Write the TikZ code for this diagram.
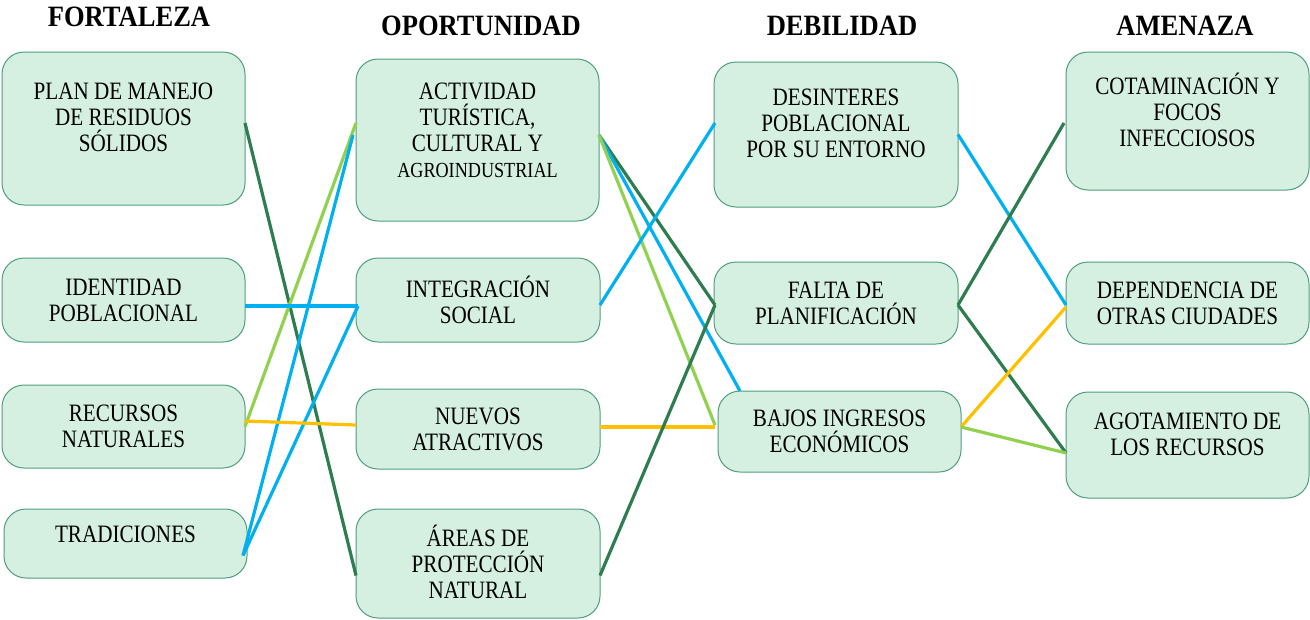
\documentclass[tikz,border=0pt]{standalone}
\usepackage{fontspec}
\setmainfont{Liberation Serif}
\newfontfamily\boxfont[FakeStretch=0.845]{Liberation Serif}
\newfontfamily\titlefont[FakeStretch=0.9]{Liberation Serif}
\definecolor{boxfill}{RGB}{213,240,224}
\definecolor{boxline}{RGB}{78,158,128}
\definecolor{dkgreen}{RGB}{46,125,78}
\definecolor{ltgreen}{RGB}{146,208,80}
\definecolor{skyblue}{RGB}{0,176,240}
\definecolor{gold}{RGB}{255,192,0}
\tikzset{
  box/.style={draw=boxline, fill=boxfill, line width=1pt, rounded corners=22pt,
    outer sep=0pt, inner sep=0pt, align=center,
    font=\boxfont\fontsize{25}{26}\selectfont},
  title/.style={font=\titlefont\bfseries\fontsize{29.5}{31}\selectfont, inner sep=0pt},
  link/.style={line width=3.2pt},
}
\begin{document}
\begin{tikzpicture}[x=1pt,y=-1pt]
\useasboundingbox (0,0) rectangle (1310,619);
% titles
\node[title] (tf) at (129,17) {FORTALEZA};
\node[title] (to) at (481,26) {OPORTUNIDAD};
\node[title] (td) at (842,26) {DEBILIDAD};
\node[title] (ta) at (1185,26) {AMENAZA};
% Fortaleza
\node[box, minimum width=243pt, minimum height=153pt] (F1) at (123.5,128.5)
  {PLAN DE MANEJO\\DE RESIDUOS\\SÓLIDOS\\[-3pt]\mbox{}};
\node[box, minimum width=243pt, minimum height=84pt] (F2) at (123.5,300)
  {IDENTIDAD\\POBLACIONAL};
\node[box, minimum width=243pt, minimum height=83pt] (F3) at (123.5,426.5)
  {RECURSOS\\NATURALES};
\node[box, minimum width=243pt, minimum height=69pt] (F4) at (125.5,543.5)
  {TRADICIONES\\[-8pt]\mbox{}};
% Oportunidad
\node[box, minimum width=243pt, minimum height=162pt] (O1) at (477.5,140)
  {ACTIVIDAD\\TURÍSTICA,\\CULTURAL Y\\{\fontsize{21.5}{24}\selectfont AGROINDUSTRIAL}\\[-6pt]\mbox{}};
\node[box, minimum width=244pt, minimum height=84pt] (O2) at (478,300)
  {INTEGRACIÓN\\SOCIAL};
\node[box, minimum width=244pt, minimum height=80pt] (O3) at (478,429)
  {NUEVOS\\ATRACTIVOS};
\node[box, minimum width=244pt, minimum height=109pt] (O4) at (478,563.5)
  {ÁREAS DE\\PROTECCIÓN\\NATURAL\\[-22pt]\mbox{}};
% Debilidad
\node[box, minimum width=244pt, minimum height=145pt] (D1) at (836,134.5)
  {DESINTERES\\POBLACIONAL\\POR SU ENTORNO\\[-3pt]\mbox{}};
\node[box, minimum width=244pt, minimum height=82pt] (D2) at (836,303)
  {FALTA DE\\PLANIFICACIÓN};
\node[box, minimum width=243pt, minimum height=81pt] (D3) at (839.5,431.5)
  {BAJOS INGRESOS\\ECONÓMICOS};
% Amenaza
\node[box, minimum width=243pt, minimum height=138pt] (A1) at (1187.5,121)
  {COTAMINACIÓN Y\\FOCOS\\INFECCIOSOS\\[-3pt]\mbox{}};
\node[box, minimum width=243pt, minimum height=82pt] (A2) at (1187.5,303)
  {DEPENDENCIA DE\\OTRAS CIUDADES};
\node[box, minimum width=243pt, minimum height=106pt] (A3) at (1187.5,445)
  {AGOTAMIENTO DE\\LOS RECURSOS\\[-4pt]\mbox{}};
% links Fortaleza -> Oportunidad
\draw[link, dkgreen] ([yshift=5.5pt]F1.east) -- ([yshift=-12pt]O4.west);
\draw[link, ltgreen] ([yshift=0pt]F3.east) -- ([yshift=17pt]O1.west);
\draw[link, skyblue] ([xshift=-4pt,yshift=-12pt]F4.east) -- ([xshift=-3pt,yshift=5pt]O1.west);
\draw[link, skyblue] ([yshift=-6pt]F2.east) -- ([xshift=2pt,yshift=-6pt]O2.west);
\draw[link, skyblue] ([xshift=-4pt,yshift=-12pt]F4.east) -- ([xshift=2pt,yshift=-6pt]O2.west);
\draw[link, gold] ([yshift=5.5pt]F3.east) -- ([yshift=4pt]O3.west);
% links Oportunidad -> Debilidad
\draw[link, dkgreen] ([yshift=5pt]O1.east) -- ([xshift=1pt,yshift=-2pt]D2.west);
\draw[link, skyblue] ([yshift=5pt]O1.east) -- ([xshift=22pt]D3.north west);
\draw[link, ltgreen] ([yshift=5pt]O1.east) -- ([xshift=-3pt,yshift=6.5pt]D3.west);
\draw[link, skyblue] ([yshift=-5pt]O2.east) -- ([xshift=1pt,yshift=11.5pt]D1.west);
\draw[link, gold] ([yshift=2pt]O3.east) -- ([xshift=-3pt,yshift=4.5pt]D3.west);
\draw[link, dkgreen] ([yshift=-12pt]O4.east) -- ([xshift=1pt,yshift=-2pt]D2.west);
% links Debilidad -> Amenaza
\draw[link, skyblue] ([yshift=0pt]D1.east) -- ([yshift=-2pt]A2.west);
\draw[link, dkgreen] ([yshift=-2pt]D2.east) -- ([xshift=-2pt,yshift=-2pt]A1.west);
\draw[link, dkgreen] ([yshift=-2pt]D2.east) -- ([yshift=-8pt]A3.west);
\draw[link, gold] ([yshift=4.5pt]D3.east) -- ([yshift=-4pt]A2.west);
\draw[link, ltgreen] ([yshift=4.5pt]D3.east) -- ([yshift=-8pt]A3.west);
\end{tikzpicture}
\end{document}
